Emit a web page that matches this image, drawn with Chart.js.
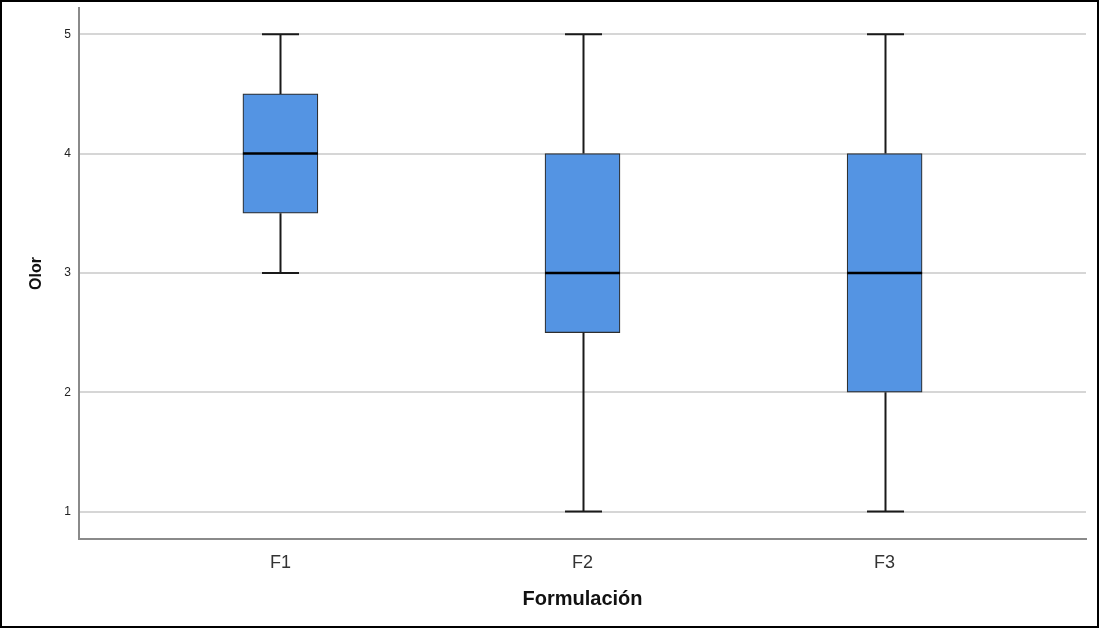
<!DOCTYPE html>
<html>
<head>
<meta charset="utf-8">
<script src="https://cdn.jsdelivr.net/npm/chart.js@4"></script>
<style>
  html, body { margin: 0; padding: 0; background: #fff; }
  canvas { display: block; }
</style>
</head>
<body>
<canvas id="olorChart" width="1099" height="628"></canvas>
<script>
// Datos del diagrama de caja (Olor por formulación)
const categories = ['F1', 'F2', 'F3'];
const positions = [1, 2, 3];
const minValues = [3, 1, 1];
const q1Values = [3.5, 2.5, 2];
const medianValues = [4, 3, 3];
const q3Values = [4.5, 4, 4];
const maxValues = [5, 5, 5];
const yTicks = [1, 2, 3, 4, 5];

const BOX_WIDTH = 75;
const CAP_WIDTH = 37;

// fondo blanco y marco negro exterior
const framePlugin = {
    id: 'frame',
    beforeDraw(chart) {
        const ctx = chart.ctx;
        ctx.save();
        ctx.fillStyle = '#ffffff';
        ctx.fillRect(0, 0, chart.width, chart.height);
        ctx.restore();
    },
    afterDraw(chart) {
        const ctx = chart.ctx;
        ctx.save();
        ctx.strokeStyle = '#000000';
        ctx.lineWidth = 2;
        ctx.strokeRect(1, 1, chart.width - 2, chart.height - 2);
        ctx.restore();
    }
};

// bigotes y mediana dibujados con las escalas del gráfico
const whiskerPlugin = {
    id: 'whiskers',
    afterDatasetsDraw(chart) {
        const ctx = chart.ctx;
        const x = chart.scales.x;
        const y = chart.scales.y;
        ctx.save();
        ctx.strokeStyle = '#1a1a1a';
        ctx.lineWidth = 2;
        positions.forEach((p, i) => {
            const cx = Math.round(x.getPixelForValue(p)) + 0.5;
            const yMin = y.getPixelForValue(minValues[i]);
            const yQ1 = y.getPixelForValue(q1Values[i]);
            const yQ3 = y.getPixelForValue(q3Values[i]);
            const yMax = y.getPixelForValue(maxValues[i]);
            ctx.beginPath();
            ctx.moveTo(cx, yQ3);
            ctx.lineTo(cx, yMax);
            ctx.moveTo(cx - CAP_WIDTH / 2, yMax);
            ctx.lineTo(cx + CAP_WIDTH / 2, yMax);
            ctx.moveTo(cx, yQ1);
            ctx.lineTo(cx, yMin);
            ctx.moveTo(cx - CAP_WIDTH / 2, yMin);
            ctx.lineTo(cx + CAP_WIDTH / 2, yMin);
            ctx.stroke();
        });
        ctx.strokeStyle = '#000000';
        ctx.lineWidth = 2.5;
        positions.forEach((p, i) => {
            const cx = x.getPixelForValue(p);
            const yMed = y.getPixelForValue(medianValues[i]);
            ctx.beginPath();
            ctx.moveTo(cx - BOX_WIDTH / 2, yMed);
            ctx.lineTo(cx + BOX_WIDTH / 2, yMed);
            ctx.stroke();
        });
        ctx.restore();
    }
};

function createOlorChart() {
    const ctx = document.getElementById('olorChart').getContext('2d');
    new Chart(ctx, {
        type: 'bar',
        data: {
            datasets: [{
                label: 'Olor',
                data: positions.map((p, i) => ({ x: p, y: [q1Values[i], q3Values[i]] })),
                backgroundColor: '#5494e3',
                borderColor: '#2e2e2e',
                borderWidth: 1.2,
                borderSkipped: false,
                barThickness: BOX_WIDTH
            }]
        },
        options: {
            responsive: false,
            animation: false,
            layout: {
                padding: { top: 8, right: 13, bottom: 0, left: 0 }
            },
            scales: {
                x: {
                    type: 'linear',
                    offset: false,
                    min: 1 / 3,
                    max: 11 / 3,
                    afterBuildTicks: (scale) => {
                        scale.ticks = positions.map(v => ({ value: v }));
                    },
                    afterFit: (scale) => { scale.height = 89; },
                    grid: { display: false, drawTicks: false },
                    border: { display: true, color: '#8a8a8a', width: 2 },
                    ticks: {
                        padding: 13,
                        color: '#333333',
                        font: { family: 'Liberation Sans, Arial, sans-serif', size: 18 },
                        callback: (value) => categories[value - 1]
                    },
                    title: {
                        display: true,
                        text: 'Formulación',
                        color: '#111111',
                        font: { family: 'Liberation Sans, Arial, sans-serif', size: 20, weight: 'bold' },
                        padding: { top: 0, bottom: 17 }
                    }
                },
                y: {
                    min: 0.77,
                    max: 5.22,
                    afterBuildTicks: (scale) => {
                        scale.ticks = yTicks.map(v => ({ value: v }));
                    },
                    afterFit: (scale) => {
                        scale.width = 79;
                        scale.paddingTop = 0;
                        scale.paddingBottom = 0;
                    },
                    grid: { color: '#d6d6d6', lineWidth: 2, drawTicks: false },
                    border: { display: true, color: '#8a8a8a', width: 2 },
                    ticks: {
                        padding: 8,
                        color: '#222222',
                        font: { family: 'Liberation Sans, Arial, sans-serif', size: 12 }
                    },
                    title: {
                        display: true,
                        text: 'Olor',
                        color: '#111111',
                        font: { family: 'Liberation Sans, Arial, sans-serif', size: 16, weight: 'bold' },
                        padding: { top: 27, bottom: 0 }
                    }
                }
            },
            plugins: {
                legend: { display: false },
                tooltip: { enabled: false }
            }
        },
        plugins: [framePlugin, whiskerPlugin]
    });
}

createOlorChart();
</script>
</body>
</html>
